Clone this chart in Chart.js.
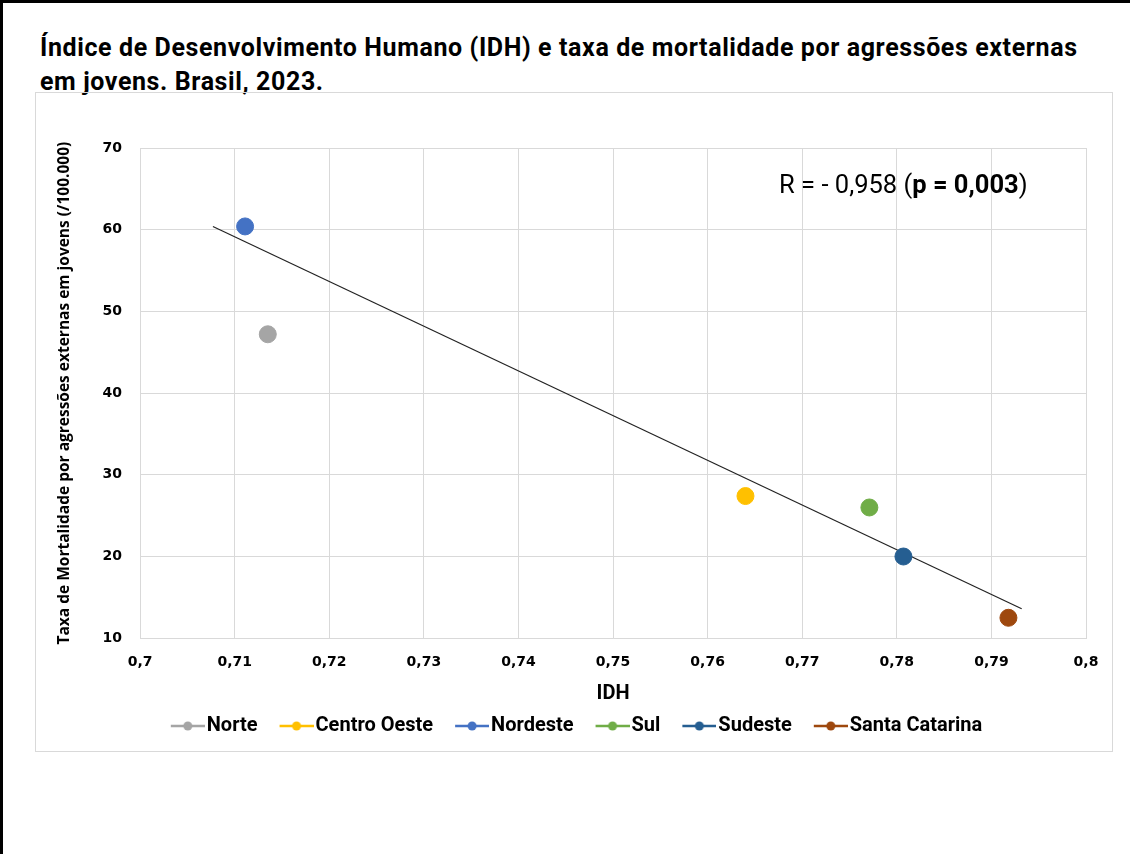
<!DOCTYPE html>
<html lang="pt-BR">
<head>
<meta charset="utf-8">
<title>IDH e mortalidade por agressões externas em jovens</title>
<script src="https://cdn.jsdelivr.net/npm/chart.js@4/dist/chart.umd.min.js"></script>
<style>
	body { margin: 0; background: #fff; }
	#pagina {
		position: relative; width: 1130px; height: 854px; box-sizing: border-box;
		border-top: 3px solid #000; border-left: 3px solid #000;
	}
	#titulo {
		position: absolute; left: 37px; top: 28px; color: #000;
		font-family: Roboto, sans-serif; letter-spacing: 0.6px;
		font-weight: bold; font-size: 25px; line-height: 34px;
	}
	#caixa {
		position: absolute; left: 32px; top: 89px; width: 1078px; height: 660px;
		border: 1px solid #d9d9d9; box-sizing: border-box;
	}
</style>
</head>
<body>
<div id="pagina">
	<div id="titulo">Índice de Desenvolvimento Humano (IDH) e taxa de mortalidade por agressões externas<br>em jovens. Brasil, 2023.</div>
	<div id="caixa"><canvas id="grafico" width="1076" height="658"></canvas></div>
</div>

<script>
// dados
const regioes = ["Norte", "Centro Oeste", "Nordeste", "Sul", "Sudeste", "Santa Catarina"];
const idh = [0.7135, 0.7640, 0.7111, 0.7771, 0.7807, 0.7918];
const taxa = [47.2, 27.4, 60.4, 26.0, 20.0, 12.5];
const cores = ["#A5A5A5", "#FFC000", "#4472C4", "#70AD47", "#255E91", "#9E480E"];

// linha de tendencia (pontas)
const tendenciaX = [0.7077, 0.7932];
const tendenciaY = [60.4, 13.6];

const textoR = "R = - 0,958 (";
const textoP = "p = 0,003";
const textoFim = ")";

const fonte = "Roboto, sans-serif";

// icone da legenda: linha com marcador no meio
// (parte esquerda transparente = espaco entre itens)
function iconeLegenda(cor) {
	let c = document.createElement("canvas");
	c.width = 54;
	c.height = 12;
	let ctx = c.getContext("2d");
	ctx.strokeStyle = cor;
	ctx.lineWidth = 2.5;
	ctx.beginPath();
	ctx.moveTo(20, 6);
	ctx.lineTo(54, 6);
	ctx.stroke();
	ctx.fillStyle = cor;
	ctx.beginPath();
	ctx.arc(37, 6, 4.5, 0, Math.PI * 2);
	ctx.fill();
	return c;
}

let datasets = [];
for (let i = 0; i < regioes.length; i++) {
	datasets.push({
		label: regioes[i],
		data: [{ x: idh[i], y: taxa[i] }],
		backgroundColor: cores[i],
		borderColor: cores[i],
		pointRadius: 8.5,
		pointHoverRadius: 8.5,
		showLine: false
	});
}
datasets.push({
	label: "tendencia",
	type: "line",
	data: tendenciaX.map((x, i) => ({ x: x, y: tendenciaY[i] })),
	borderColor: "#222",
	borderWidth: 1.2,
	pointRadius: 0,
	fill: false
});

// texto do coeficiente de correlacao
const anotacaoR = {
	id: "anotacaoR",
	afterDatasetsDraw(chart) {
		const ctx = chart.ctx;
		const area = chart.chartArea;
		let x = area.left + 639;
		let y = area.top + 39;
		ctx.save();
		ctx.fillStyle = "#000";
		ctx.textBaseline = "middle";
		ctx.font = "25.5px " + fonte;
		ctx.fillText(textoR, x, y);
		x += ctx.measureText(textoR).width;
		ctx.font = "bold 25.5px " + fonte;
		ctx.fillText(textoP, x, y);
		x += ctx.measureText(textoP).width;
		ctx.font = "25.5px " + fonte;
		ctx.fillText(textoFim, x, y);
		ctx.restore();
	}
};

new Chart(document.getElementById("grafico"), {
	type: "scatter",
	data: { datasets: datasets },
	plugins: [anotacaoR],
	options: {
		responsive: false,
		animation: false,
		devicePixelRatio: 1,
		layout: { padding: { left: 19, right: 26, top: 55, bottom: 5 } },
		plugins: {
			tooltip: { enabled: false },
			legend: {
				position: "bottom",
				labels: {
					usePointStyle: true,
					pointStyleWidth: 38,
					padding: 10,
					color: "#000",
					font: { family: fonte, size: 20, weight: "bold" },
					filter: (item) => item.text !== "tendencia",
					generateLabels: (chart) => chart.data.datasets.map((ds, i) => ({
						text: ds.label,
						datasetIndex: i,
						pointStyle: iconeLegenda(ds.borderColor),
						fillStyle: ds.borderColor,
						strokeStyle: ds.borderColor,
						lineWidth: 0,
						hidden: false
					}))
				}
			}
		},
		scales: {
			x: {
				type: "linear",
				min: 0.7,
				max: 0.8,
				afterFit: (s) => { s.paddingRight = 0; },
				grid: { color: "#d9d9d9", drawTicks: false },
				border: { color: "#d9d9d9" },
				ticks: {
					stepSize: 0.01,
					padding: 16,
					color: "#000",
					font: { family: "'DejaVu Sans'", size: 14, weight: "bold" },
					callback: (v) => String(Number(v.toFixed(2))).replace(".", ",")
				},
				title: {
					display: true,
					text: "IDH",
					color: "#000",
					font: { family: fonte, size: 20, weight: "bold" },
					padding: { top: -5, bottom: 0 }
				}
			},
			y: {
				min: 10,
				max: 70,
				grid: { color: "#d9d9d9", drawTicks: false },
				border: { color: "#d9d9d9" },
				ticks: {
					stepSize: 10,
					padding: 18,
					color: "#000",
					font: { family: "'DejaVu Sans'", size: 14, weight: "bold" }
				},
				title: {
					display: true,
					text: "Taxa de Mortalidade por agressões externas em jovens (/100.000)",
					color: "#000",
					font: { family: "'Open Sans'", size: 15.5, weight: "bold" },
					padding: { top: 0, bottom: 11 }
				}
			}
		}
	}
});
</script>
</body>
</html>
